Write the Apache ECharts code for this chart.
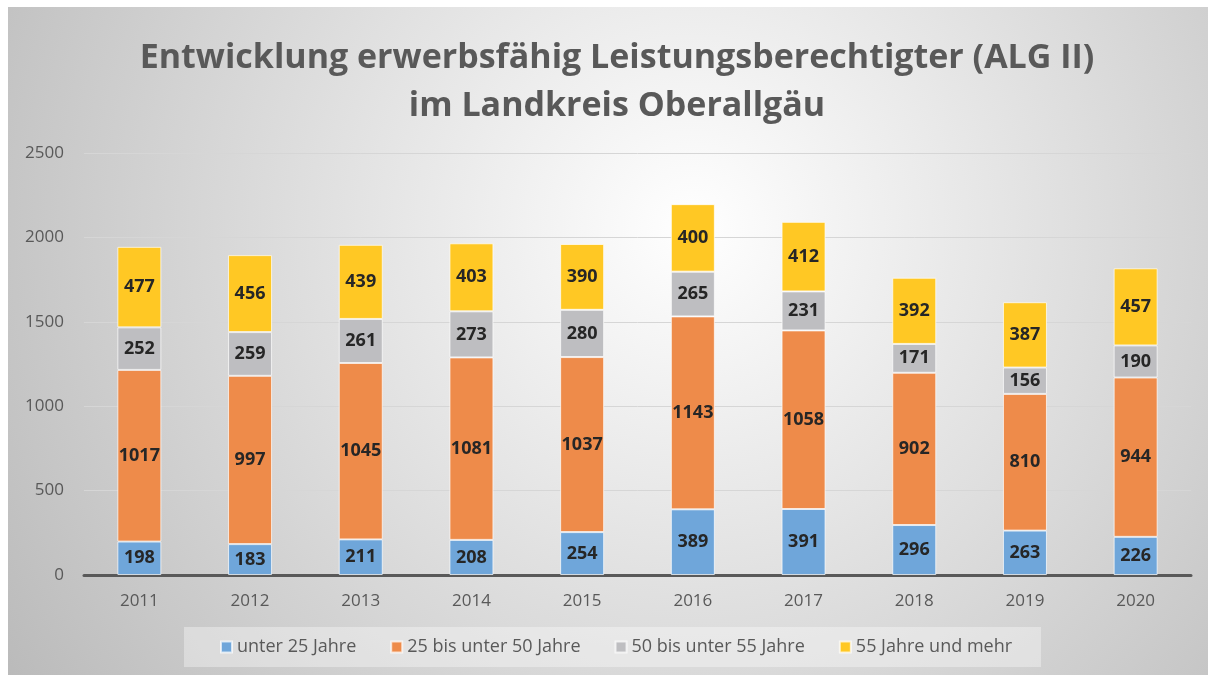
<!DOCTYPE html>
<html>
<head>
<meta charset="utf-8">
<script src="https://cdn.jsdelivr.net/npm/echarts@6/dist/echarts.min.js"></script>
<style>
  html, body { margin: 0; padding: 0; background: #fff; }
  #main { width: 1208px; height: 675px; }
</style>
</head>
<body>
<div id="main"></div>
<script>
const years = ['2011', '2012', '2013', '2014', '2015', '2016', '2017', '2018', '2019', '2020'];
const unter25 = [198, 183, 211, 208, 254, 389, 391, 296, 263, 226];
const von25bis50 = [1017, 997, 1045, 1081, 1037, 1143, 1058, 902, 810, 944];
const von50bis55 = [252, 259, 261, 273, 280, 265, 231, 171, 156, 190];
const ab55 = [477, 456, 439, 403, 390, 400, 412, 392, 387, 457];
const seriesNames = ['unter 25 Jahre', '25 bis unter 50 Jahre', '50 bis unter 55 Jahre', '55 Jahre und mehr'];
const colors = ['#6FA6DA', '#EE8B4A', '#BEBEC1', '#FFC824'];

const chart = echarts.init(document.getElementById('main'));

function barSeries(name, data, color) {
  return {
    name: name,
    type: 'bar',
    stack: 'total',
    data: data,
    barWidth: 44,
    itemStyle: { color: color, borderColor: 'rgba(255,255,255,0.7)', borderWidth: 1 },
    label: {
      show: true,
      position: 'inside',
      color: '#262626',
      fontFamily: 'Open Sans',
      fontWeight: 'bold',
      fontSize: 18
    }
  };
}

chart.setOption({
  animation: false,
  color: colors,
  graphic: [{
    type: 'rect',
    z: -10,
    silent: true,
    shape: { x: 8, y: 7, width: 1200, height: 668 },
    style: {
      fill: {
        type: 'radial', x: 0.57, y: 0.33, r: 1.25,
        colorStops: [
          { offset: 0, color: '#ffffff' },
          { offset: 1, color: '#b9b9b9' }
        ]
      }
    }
  }],
  title: {
    text: 'Entwicklung erwerbsfähig Leistungsberechtigter (ALG II)\nim Landkreis Oberallgäu',
    left: 612,
    top: 29,
    textAlign: 'center',
    textStyle: {
      color: '#595959',
      fontFamily: 'Open Sans',
      fontWeight: 'bold',
      fontSize: 34,
      lineHeight: 48
    }
  },
  legend: {
    data: seriesNames,
    left: 184,
    top: 627,
    icon: 'rect',
    itemWidth: 11,
    itemHeight: 11,
    itemGap: 34,
    padding: [10, 29, 10, 36],
    backgroundColor: 'rgba(255,255,255,0.35)',
    textStyle: { color: '#595959', fontFamily: 'Open Sans', fontSize: 18, lineHeight: 20 }
  },
  grid: { left: 84, right: 17, top: 153, bottom: 100 },
  xAxis: {
    type: 'category',
    data: years,
    axisTick: { show: false },
    axisLine: { lineStyle: { color: '#595959', width: 3 } },
    axisLabel: { color: '#595959', fontFamily: 'Open Sans', fontSize: 17, margin: 18 }
  },
  yAxis: {
    type: 'value',
    min: 0,
    max: 2500,
    interval: 500,
    axisLine: { show: false },
    axisTick: { show: false },
    splitLine: { lineStyle: { color: '#d6d6d6', width: 1 } },
    axisLabel: {
      color: '#595959', fontFamily: 'Open Sans', fontSize: 17, margin: 20,
      formatter: function (v) { return String(v); }
    }
  },
  series: [
    barSeries(seriesNames[0], unter25, colors[0]),
    barSeries(seriesNames[1], von25bis50, colors[1]),
    barSeries(seriesNames[2], von50bis55, colors[2]),
    barSeries(seriesNames[3], ab55, colors[3])
  ]
});
</script>
</body>
</html>
